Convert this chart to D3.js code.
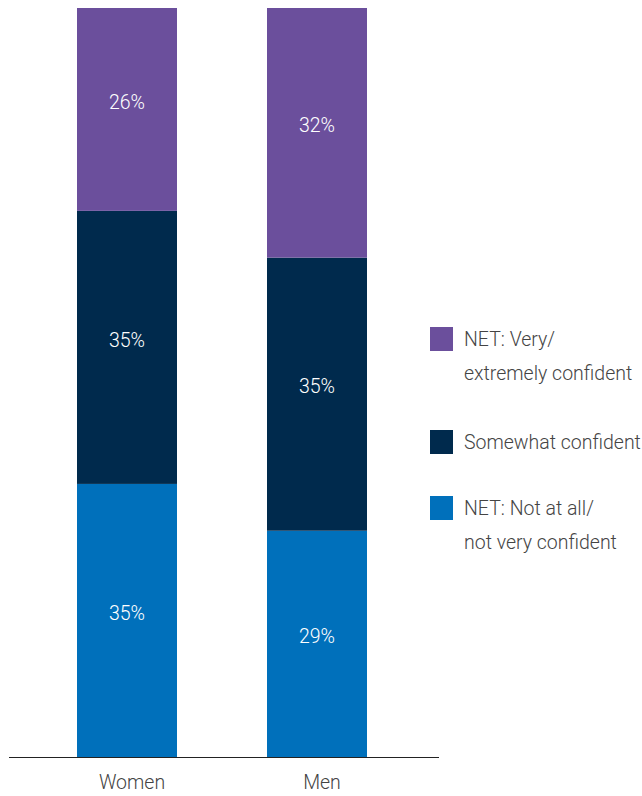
<!DOCTYPE html>
<html>
<head>
<meta charset="utf-8">
<script src="https://cdn.jsdelivr.net/npm/d3@7"></script>
<style>
  body { margin: 0; background: #fff; }
  svg text { font-family: "Roboto", "Open Sans", sans-serif; font-weight: 300; }
</style>
</head>
<body>
<svg id="chart" width="642" height="796"></svg>
<script>
const groups = ["Women", "Men"]
const seriesKeys = ["notConfident", "somewhat", "very"]
const seriesLabels = {
  very: ["NET: Very/", "extremely confident"],
  somewhat: ["Somewhat confident"],
  notConfident: ["NET: Not at all/", "not very confident"]
}
const notConfident = [35, 29]
const somewhat = [35, 35]
const very = [26, 32]
const colors = { notConfident: "#0070bb", somewhat: "#002a4d", very: "#6b4f9c" }

const rows = groups.map((g, i) => ({
  group: g,
  notConfident: notConfident[i],
  somewhat: somewhat[i],
  very: very[i]
}))

const svg = d3.select("#chart")
const baseY = 757
const fontSize = 19.5

const x = d3.scaleBand()
  .domain(groups)
  .range([77, 367])
  .paddingInner(90 / 190)
  .paddingOuter(0)

// hand-tuned so both bars nearly reach the top
const y = d3.scaleLinear()
  .domain([0, 96])
  .range([baseY, 8])

const stacked = d3.stack().keys(seriesKeys)(rows)

const layer = svg.selectAll("g.layer")
  .data(stacked)
  .enter().append("g")
  .attr("class", "layer")
  .attr("fill", d => colors[d.key])

layer.selectAll("rect")
  .data(d => d)
  .enter().append("rect")
  .attr("x", d => x(d.data.group))
  .attr("width", x.bandwidth())
  .attr("y", d => y(d[1]))
  .attr("height", d => y(d[0]) - y(d[1]))

layer.selectAll("text")
  .data(d => d)
  .enter().append("text")
  .attr("x", d => x(d.data.group) + x.bandwidth() / 2)
  .attr("y", d => (y(d[0]) + y(d[1])) / 2 - 6)
  .attr("text-anchor", "middle")
  .attr("dominant-baseline", "middle")
  .attr("fill", "#fff")
  .attr("font-size", fontSize)
  .text(d => (d[1] - d[0]) + "%")

// baseline
svg.append("line")
  .attr("x1", 9).attr("x2", 439)
  .attr("y1", baseY + 0.5).attr("y2", baseY + 0.5)
  .attr("stroke", "#222")
  .attr("stroke-width", 1)

svg.selectAll("text.cat")
  .data(groups)
  .enter().append("text")
  .attr("class", "cat")
  .attr("x", d => x(d) + x.bandwidth() / 2 + 5)
  .attr("y", 784)
  .attr("text-anchor", "middle")
  .attr("dominant-baseline", "middle")
  .attr("fill", "#444")
  .attr("font-size", fontSize)
  .text(d => d)

// legend
const legendItems = [
  { key: "very", y: 327 },
  { key: "somewhat", y: 430 },
  { key: "notConfident", y: 496 }
]

const legend = svg.selectAll("g.legend")
  .data(legendItems)
  .enter().append("g")
  .attr("class", "legend")
  .attr("transform", d => `translate(430,${d.y})`)

legend.append("rect")
  .attr("width", 23)
  .attr("height", 24)
  .attr("fill", d => colors[d.key])

legend.selectAll("text")
  .data(d => seriesLabels[d.key])
  .enter().append("text")
  .attr("x", 34)
  .attr("y", (d, i) => 14 + i * 34)
  .attr("dominant-baseline", "middle")
  .attr("fill", "#444")
  .attr("font-size", fontSize)
  .text(d => d)
</script>
</body>
</html>
